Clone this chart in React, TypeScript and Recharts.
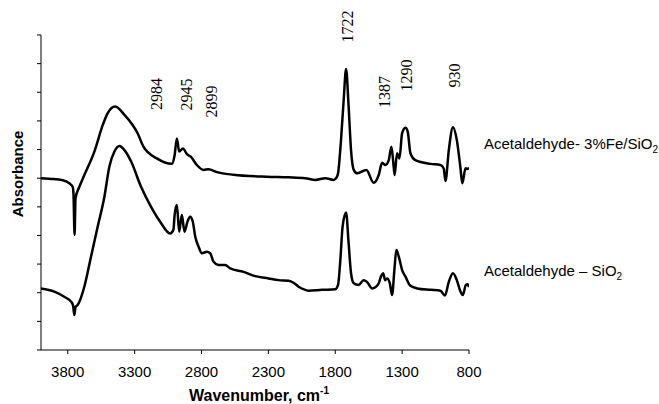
import React from 'react';
import { LineChart, Line, XAxis, YAxis, ReferenceDot } from 'recharts';

// axis ticks
const X_TICKS = [3800, 3300, 2800, 2300, 1800, 1300, 800];
const Y_TICKS = [0, 1, 2, 3, 4, 5, 6, 7, 8, 9, 10, 11];

// [wavenumber, absorbance]
const feSpectrum: [number, number][] = [
  [4000, 6.0], [3903, 5.97], [3850, 5.94], [3788, 5.82], [3763, 5.7], [3757, 5.45],
  [3749, 4.02], [3742, 5.3], [3713, 5.7], [3676, 6.11], [3601, 6.93], [3538, 7.86],
  [3501, 8.27], [3446, 8.5], [3376, 8.21], [3276, 7.55], [3234, 7.1], [3134, 6.69],
  [3022, 6.5], [3001, 6.8], [2984, 7.39], [2967, 6.93], [2939, 7.04], [2909, 6.84],
  [2880, 6.75], [2835, 6.46], [2785, 6.29], [2748, 6.31], [2685, 6.21], [2561, 6.12],
  [2311, 6.05], [2149, 6.03], [2024, 6.0], [1949, 5.94], [1874, 6.0], [1812, 5.94],
  [1787, 6.05], [1779, 6.17], [1757, 7.33], [1737, 8.73], [1719, 9.81], [1700, 8.5],
  [1682, 6.98], [1662, 6.29], [1637, 6.17], [1588, 6.26], [1567, 6.29], [1513, 5.84],
  [1475, 6.11], [1450, 6.54], [1425, 6.46], [1400, 6.63], [1380, 7.1], [1367, 6.6],
  [1356, 6.11], [1338, 6.87], [1320, 6.69], [1300, 7.57], [1275, 7.76], [1258, 7.62],
  [1238, 6.87], [1201, 6.63], [1088, 6.5], [1014, 6.46], [989, 6.34], [976, 5.9],
  [951, 6.98], [920, 7.78], [891, 7.33], [865, 6.4], [850, 5.82], [826, 6.35],
  [811, 6.32], [800, 6.37],
];

const siSpectrum: [number, number][] = [
  [4000, 2.15], [3900, 2.04], [3826, 1.86], [3775, 1.69], [3760, 1.55], [3751, 1.22],
  [3742, 1.5], [3726, 1.57], [3676, 2.21], [3626, 3.26], [3576, 4.31], [3526, 5.35],
  [3489, 6.4], [3451, 6.93], [3414, 7.12], [3376, 6.98], [3326, 6.58], [3252, 5.7],
  [3177, 5.0], [3109, 4.48], [3034, 4.07], [3010, 4.2], [3001, 4.71], [2984, 5.06],
  [2967, 4.13], [2947, 4.71], [2927, 4.13], [2905, 4.48], [2885, 4.65], [2865, 4.48],
  [2847, 3.96], [2822, 3.61], [2797, 3.38], [2760, 3.43], [2735, 3.38], [2710, 3.08],
  [2673, 2.97], [2623, 2.97], [2585, 2.85], [2486, 2.73], [2398, 2.58], [2299, 2.5],
  [2224, 2.44], [2149, 2.42], [2112, 2.35], [2074, 2.21], [2024, 2.1], [1999, 2.07],
  [1899, 2.1], [1799, 2.12], [1779, 2.27], [1762, 3.14], [1745, 4.31], [1719, 4.8],
  [1700, 3.73], [1682, 2.68], [1662, 2.33], [1625, 2.27], [1588, 2.44], [1563, 2.38],
  [1525, 2.15], [1500, 2.19], [1475, 2.33], [1457, 2.58], [1442, 2.68], [1427, 2.44],
  [1412, 2.5], [1392, 2.33], [1375, 1.92], [1358, 2.79], [1343, 3.49], [1325, 3.26],
  [1300, 2.79], [1275, 2.56], [1238, 2.24], [1188, 2.15], [1088, 2.1], [1014, 2.07],
  [980, 1.9], [951, 2.38], [920, 2.68], [891, 2.44], [866, 2.07], [846, 1.92],
  [824, 2.27], [812, 2.3], [800, 2.2],
];

// peak annotations (label centre in data units)
const peakLabels = [
  { text: '2984', wn: 3134, y: 8.94 },
  { text: '2945', wn: 2909, y: 8.92 },
  { text: '2899', wn: 2722, y: 8.68 },
  { text: '1722', wn: 1712, y: 11.3 },
  { text: '1387', wn: 1433, y: 9.01 },
  { text: '1290', wn: 1268, y: 9.59 },
  { text: '930', wn: 909, y: 9.59 },
];

const seriesLabels = [
  { name: 'Acetaldehyde- 3%Fe/SiO', sub: '2', y: 7.02 },
  { name: 'Acetaldehyde \u2013 SiO', sub: '2', y: 2.58 },
];

const SANS = '"Liberation Sans", Arial, sans-serif';
const SERIF = '"Liberation Serif", "Times New Roman", serif';

const toRows = (pts: [number, number][]) => pts.map(([wn, v]) => ({ wn, v }));

const App: React.FC = () => {
  const feData = toRows(feSpectrum);
  const siData = toRows(siSpectrum);

  return (
    <div style={{ position: 'absolute', left: 0, top: 0, width: 659, height: 404, background: '#fff' }}>
      <LineChart width={659} height={404} margin={{ top: 35, right: 190, bottom: 0, left: 0 }}>
        <XAxis
          type="number"
          dataKey="wn"
          domain={[800, 4000]}
          reversed
          allowDataOverflow
          ticks={X_TICKS}
          height={54}
          tickSize={4}
          tickMargin={12}
          axisLine={{ stroke: '#000' }}
          tickLine={{ stroke: '#000' }}
          tick={{ fill: '#000', fontSize: 15, fontFamily: SANS }}
          label={{
            content: (props: any) => {
              const vb = props.viewBox;
              return (
                <text x={vb.x + vb.width / 2 + 4} y={401} textAnchor="middle" fontSize={16} fontWeight="bold" fontFamily={SANS} fill="#000">
                  Wavenumber, cm<tspan dy={-7} fontSize={10}>-1</tspan>
                </text>
              );
            },
          }}
        />
        <YAxis
          type="number"
          domain={[0, 11]}
          ticks={Y_TICKS}
          width={41}
          tickSize={4}
          tickFormatter={() => ''}
          axisLine={{ stroke: '#000' }}
          tickLine={{ stroke: '#000' }}
          label={{
            content: () => (
              <text
                x={17.5}
                y={174}
                transform="rotate(-90, 17.5, 174)"
                textAnchor="middle"
                dominantBaseline="central"
                fontSize={15}
                fontWeight="bold"
                fontFamily={SANS}
                fill="#000"
              >
                Absorbance
              </text>
            ),
          }}
        />

        <Line data={feData} dataKey="v" type="monotone" stroke="#000" strokeWidth={2.5} dot={false} activeDot={false} isAnimationActive={false} strokeLinejoin="round" />
        <Line data={siData} dataKey="v" type="monotone" stroke="#000" strokeWidth={2.5} dot={false} activeDot={false} isAnimationActive={false} strokeLinejoin="round" />

        {peakLabels.map((p) => (
          <ReferenceDot
            key={p.text}
            x={p.wn}
            y={p.y}
            r={0}
            ifOverflow="visible"
            shape={(s: any) => (
              <text
                x={s.cx}
                y={s.cy}
                transform={`rotate(-90, ${s.cx}, ${s.cy})`}
                textAnchor="middle"
                dominantBaseline="central"
                fontSize={16}
                fontFamily={SERIF}
                fill="#000"
              >
                {p.text}
              </text>
            )}
          />
        ))}

        {seriesLabels.map((l) => (
          <ReferenceDot
            key={l.name}
            x={800}
            y={l.y}
            r={0}
            ifOverflow="visible"
            shape={(s: any) => (
              <text x={s.cx + 15} y={s.cy} fontSize={15} fontFamily={SANS} fill="#000">
                {l.name}
                <tspan dy={4} fontSize={10}>{l.sub}</tspan>
              </text>
            )}
          />
        ))}
      </LineChart>
    </div>
  );
};

export default App;
